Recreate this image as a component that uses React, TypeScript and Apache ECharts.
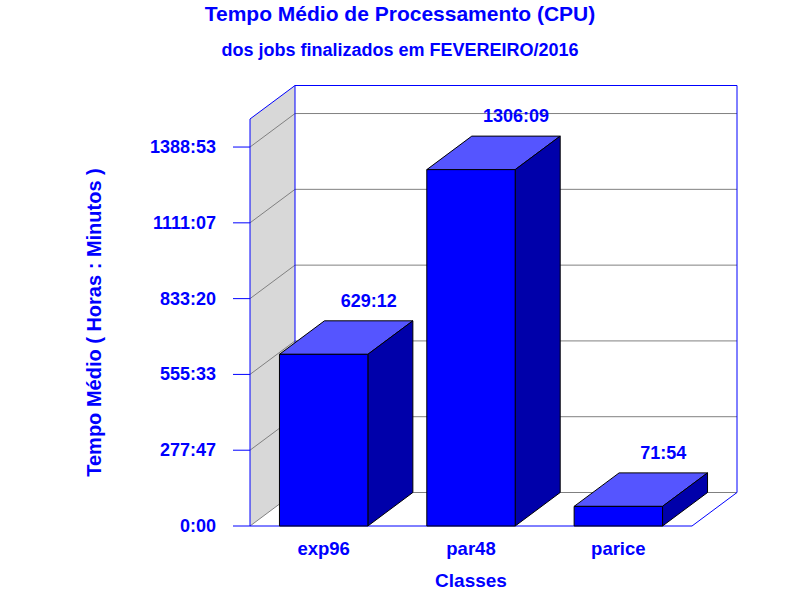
import React, { useEffect, useRef } from "react";
import * as echarts from "echarts";

// ---- data ----
const CATEGORIES = ["exp96", "par48", "parice"];
// values in minutes (h:mm)
const VALUES_MIN = [629 * 60 + 12, 1306 * 60 + 9, 71 * 60 + 54];
const Y_STEP = 1000000 / 60; // 277:47 per tick, in minutes
const Y_MAX = 89500;

const TITLE = "Tempo Médio de Processamento (CPU)";
const SUBTITLE = "dos jobs finalizados em FEVEREIRO/2016";
const X_NAME = "Classes";
const Y_NAME = "Tempo Médio ( Horas : Minutos )";

// ---- style ----
const BLUE = "#0000ff";
const FRONT = "#0000ff";
const TOP = "#5555ff";
const SIDE = "#0000aa";
const WALL = "#d8d8d8";
const GRIDC = "#808080";
const DX = 45;
const DY = -33.5;
const FONT = "'Liberation Sans', Arial, sans-serif";

function fmt(v: number): string {
  const m = Math.round(v);
  const h = Math.floor(m / 60);
  const mm = m % 60;
  return h + ":" + (mm < 10 ? "0" + mm : "" + mm);
}

export default function App() {
  const ref = useRef<HTMLDivElement>(null);
  useEffect(() => {
    document.body.style.margin = "0";
    const chart = echarts.init(ref.current!, null, { renderer: "svg" });
    const ticks: number[] = [];
    for (let t = 0; t <= Y_MAX + 1e-6; t += Y_STEP) ticks.push(t);

    const option: any = {
      animation: false,
      backgroundColor: "#ffffff",
      title: [
        {
          text: TITLE,
          left: "center",
          top: -2,
          textStyle: { color: BLUE, fontSize: 21, fontWeight: "bold", fontFamily: FONT },
        },
        {
          text: SUBTITLE,
          left: "center",
          top: 36,
          textStyle: { color: BLUE, fontSize: 18, fontWeight: "bold", fontFamily: FONT },
        },
      ],
      grid: { left: 250, right: 108, top: 119, bottom: 74, containLabel: false, outerBoundsMode: "none" },
      xAxis: {
        type: "category",
        data: CATEGORIES,
        axisLine: { show: false },
        axisTick: { show: false },
        splitLine: { show: false },
        axisLabel: { color: BLUE, fontSize: 18.5, fontWeight: "bold", fontFamily: FONT, margin: 13 },
        name: X_NAME,
        nameLocation: "middle",
        nameGap: 44.5,
        nameTextStyle: { color: BLUE, fontSize: 19, fontWeight: "bold", fontFamily: FONT },
      },
      yAxis: {
        type: "value",
        min: 0,
        max: Y_MAX,
        interval: Y_STEP,
        axisLine: { show: false },
        axisTick: { show: false },
        splitLine: { show: false },
        axisLabel: {
          color: BLUE,
          fontSize: 18,
          fontWeight: "bold",
          fontFamily: FONT,
          margin: 34,
          showMaxLabel: false,
          formatter: (v: number) => fmt(v),
        },
        name: Y_NAME,
        nameLocation: "middle",
        nameGap: 146,
        nameRotate: 90,
        nameTextStyle: { color: BLUE, fontSize: 20, fontWeight: "bold", fontFamily: FONT },
      },
      series: [
        {
          type: "custom",
          z: 1,
          silent: true,
          data: [[0, 0]],
          renderItem: (params: any, api: any) => {
            const cs = params.coordSys;
            const x0 = cs.x;
            const x1 = cs.x + cs.width;
            const yb = api.coord([0, 0])[1];
            const yt = api.coord([0, Y_MAX])[1];
            const children: any[] = [];
            children.push({
              type: "polygon",
              shape: { points: [[x0, yb], [x0, yt], [x0 + DX, yt + DY], [x0 + DX, yb + DY]] },
              style: { fill: WALL },
            });
            children.push({
              type: "rect",
              shape: { x: x0 + DX, y: yt + DY, width: x1 - x0, height: yb - yt },
              style: { fill: "#ffffff" },
            });
            ticks.forEach((t) => {
              const y = api.coord([0, t])[1];
              children.push({
                type: "line",
                shape: { x1: x0 + DX, y1: y + DY, x2: x1 + DX, y2: y + DY },
                style: { stroke: GRIDC, lineWidth: 1 },
              });
              children.push({
                type: "line",
                shape: { x1: x0, y1: y, x2: x0 + DX, y2: y + DY },
                style: { stroke: GRIDC, lineWidth: 1 },
              });
              children.push({
                type: "line",
                shape: { x1: x0 - 17, y1: y, x2: x0, y2: y },
                style: { stroke: BLUE, lineWidth: 1 },
              });
            });
            const blueLines = [
              [x0 + DX, yt + DY, x1 + DX, yt + DY],
              [x1 + DX, yt + DY, x1 + DX, yb + DY],
              [x0 + DX, yt + DY, x0 + DX, yb + DY],
              [x0, yt, x0 + DX, yt + DY],
              [x0, yt, x0, yb],
              [x0, yb, x1, yb],
              [x1, yb, x1 + DX, yb + DY],
            ];
            blueLines.forEach((l) => {
              children.push({
                type: "line",
                shape: { x1: l[0], y1: l[1], x2: l[2], y2: l[3] },
                style: { stroke: BLUE, lineWidth: 1 },
              });
            });
            return { type: "group", children };
          },
        },
        {
          type: "custom",
          z: 2,
          data: CATEGORIES.map((c, i) => [i, VALUES_MIN[i]]),
          encode: { x: 0, y: 1 },
          renderItem: (params: any, api: any) => {
            const idx = api.value(0);
            const v = api.value(1);
            const base = api.coord([idx, 0]);
            const top = api.coord([idx, v]);
            const w = api.size([1, 0])[0] * 0.6;
            const l = base[0] - w / 2;
            const r = base[0] + w / 2;
            const yb = base[1];
            const yt = top[1];
            return {
              type: "group",
              children: [
                {
                  type: "polygon",
                  shape: { points: [[l, yt], [r, yt], [r + DX, yt + DY], [l + DX, yt + DY]] },
                  style: { fill: TOP, stroke: "#000", lineWidth: 1 },
                },
                {
                  type: "polygon",
                  shape: { points: [[r, yt], [r + DX, yt + DY], [r + DX, yb + DY], [r, yb]] },
                  style: { fill: SIDE, stroke: "#000", lineWidth: 1 },
                },
                {
                  type: "rect",
                  shape: { x: l, y: yt, width: w, height: yb - yt },
                  style: { fill: FRONT, stroke: "#000", lineWidth: 1 },
                },
                {
                  type: "text",
                  x: base[0] + DX,
                  y: yt + DY - 20,
                  style: {
                    text: fmt(v),
                    fill: BLUE,
                    fontSize: 18,
                    fontWeight: "bold",
                    fontFamily: FONT,
                    align: "center",
                    verticalAlign: "middle",
                  },
                },
              ],
            };
          },
        },
      ],
    };
    chart.setOption(option);
    return () => chart.dispose();
  }, []);
  return (
    <div
      ref={ref}
      style={{ position: "fixed", left: 0, top: 0, width: 800, height: 600 }}
    />
  );
}
